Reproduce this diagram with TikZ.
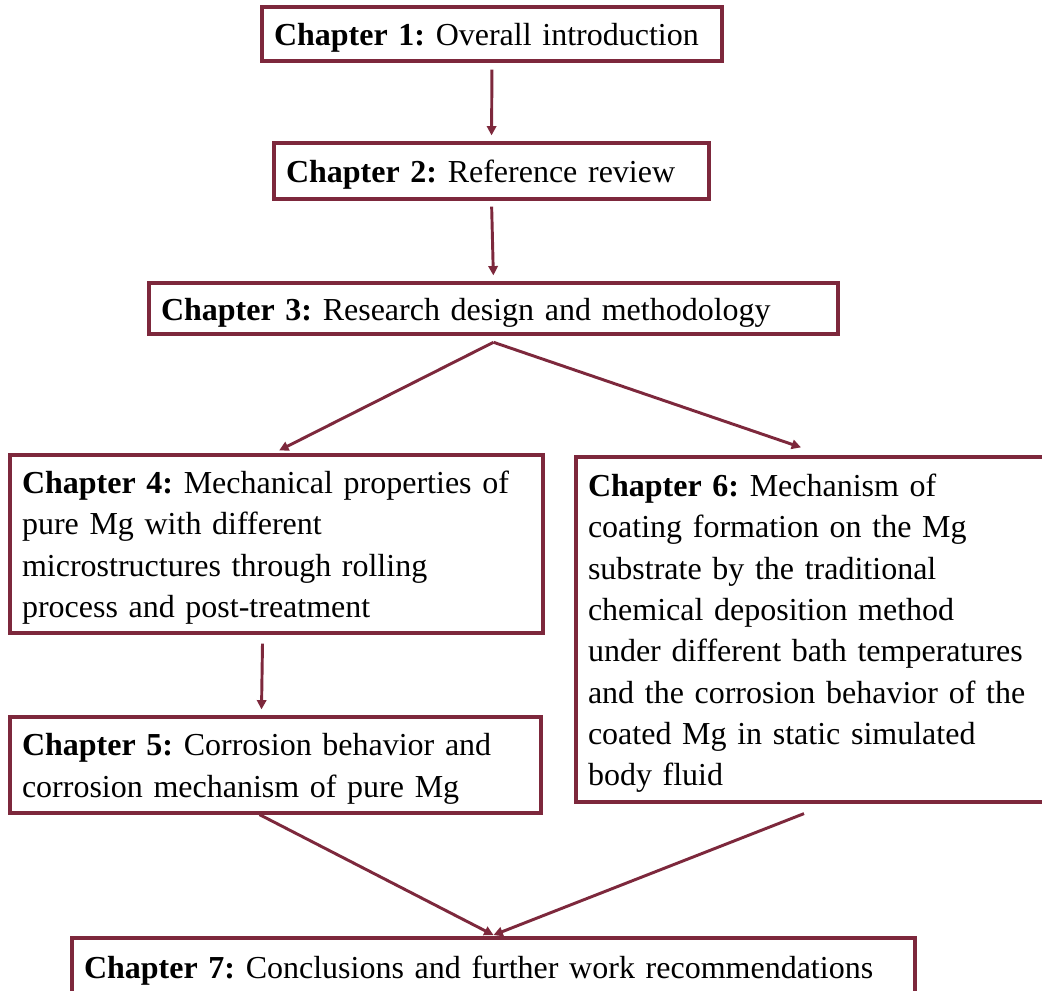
\documentclass[tikz,border=0pt]{standalone}
\usepackage{fontspec}
\setmainfont{Liberation Serif}
\usetikzlibrary{arrows.meta,calc}
\definecolor{maroon}{RGB}{125,40,60}
\newcommand{\chstrut}{\rule{0pt}{22.5pt}}
\begin{document}
\begin{tikzpicture}[x=0.75pt,y=-0.75pt,
  chap/.style={draw=maroon,line width=2.4pt,inner xsep=9pt,inner ysep=0pt,align=left,anchor=center,
    font={\fontsize{24}{31}\selectfont\frenchspacing\spaceskip=0.35em plus 0.1em minus 0.05em\relax}},
  arr/.style={draw=maroon,line width=2.2pt,-{Triangle[length=7pt,width=7pt]}}]
\fill[white] (0,0) rectangle (1042,991);
\useasboundingbox (0,0) rectangle (1042,991);

\node[chap,text width=327pt,minimum height=40.5pt] (b1) at (492,34)
  {\chstrut\textbf{Chapter 1:} Overall introduction};
\node[chap,text width=308.25pt,minimum height=42pt] (b2) at (491.5,171)
  {\chstrut\textbf{Chapter 2:} Reference review};
\node[chap,text width=498.75pt,minimum height=38.25pt] (b3) at (493.5,308.5)
  {\chstrut\textbf{Chapter 3:} Research design and methodology};
\node[chap,text width=381.75pt,minimum height=133.5pt] (b4) at (276.5,544)
  {\chstrut\textbf{Chapter 4:} Mechanical properties of\\pure Mg with different\\microstructures through rolling\\process and post-treatment};
\node[chap,text width=337.5pt,minimum height=258.75pt] (b6) at (813,629.5)
  {\chstrut\textbf{Chapter 6:} Mechanism of\\coating formation on the Mg\\substrate by the traditional\\chemical deposition method\\under different bath temperatures\\and the corrosion behavior of the\\coated Mg in static simulated\\body fluid};
\node[chap,text width=380.25pt,minimum height=72pt] (b5) at (275.5,765)
  {\chstrut\textbf{Chapter 5:} Corrosion behavior and\\corrosion mechanism of pure Mg};
\node[chap,text width=614.25pt,minimum height=43.5pt] (b7) at (493.5,967)
  {\chstrut\textbf{Chapter 7:} Conclusions and further work recommendations};

\draw[arr,shorten <=5.25pt,shorten >=4.5pt] (b1.south) -- (b2.north);
\draw[arr,shorten <=4.5pt,shorten >=4.5pt] (b2.south) -- (b3.north);
\draw[arr] ([yshift=-5pt]b3.south) -- ([xshift=2pt,yshift=2.25pt]b4.north);
\draw[arr] ([yshift=-5pt]b3.south) -- ([xshift=-9pt,yshift=6pt]b6.north);
\draw[arr] ([xshift=-10.5pt,yshift=-6.75pt]b4.south) -- ([xshift=-10.5pt,yshift=4.5pt]b5.north);
\draw[arr] ([xshift=-12pt]b5.south) -- ([yshift=1pt]b7.north);
\draw[arr] ([xshift=-6.75pt,yshift=-7.5pt]b6.south) -- ([yshift=1pt]b7.north);
\end{tikzpicture}
\end{document}
